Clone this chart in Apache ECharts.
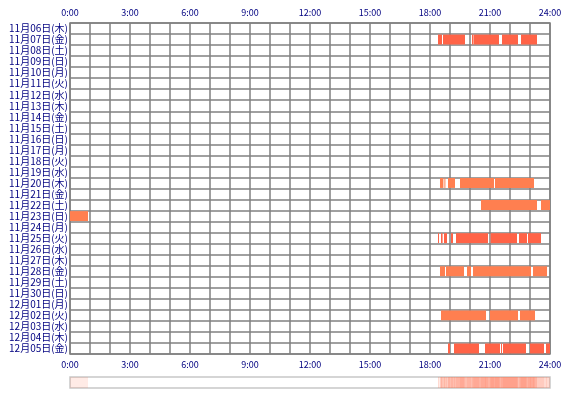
<!DOCTYPE html>
<html>
<head>
<meta charset="utf-8">
<script src="https://cdn.jsdelivr.net/npm/echarts@6/dist/echarts.min.js"></script>
<style>html,body{margin:0;padding:0;background:#fff}#chart{width:570px;height:400px}</style>
</head>
<body>
<div id="chart"></div>
<script>
// 日付ラベル
var days = ['11月06日(木)','11月07日(金)','11月08日(土)','11月09日(日)','11月10日(月)','11月11日(火)','11月12日(水)','11月13日(木)','11月14日(金)','11月15日(土)','11月16日(日)','11月17日(月)','11月18日(火)','11月19日(水)','11月20日(木)','11月21日(金)','11月22日(土)','11月23日(日)','11月24日(月)','11月25日(火)','11月26日(水)','11月27日(木)','11月28日(金)','11月29日(土)','11月30日(日)','12月01日(月)','12月02日(火)','12月03日(水)','12月04日(木)','12月05日(金)'];
var hourTicks = [0, 3, 6, 9, 12, 15, 18, 21, 24];
// 各日の区間 [日index, 開始時, 終了時]
var segments = [
  [1,18.4,18.6],[1,18.65,19.75],[1,20.1,20.15],[1,20.17,21.45],[1,21.6,22.4],[1,22.55,23.35],
  [14,18.5,18.67],[14,18.72,18.77],[14,18.9,19.25],[14,19.5,21.2],[14,21.25,23.2],
  [16,20.55,23.35],[16,23.55,24],
  [17,0,0.9],
  [19,18.4,18.45],[19,18.55,18.63],[19,18.7,18.85],[19,19.05,19.15],[19,19.3,20.9],[19,21.03,22.35],[19,22.45,22.85],[19,22.9,23.55],
  [22,18.5,18.75],[22,18.8,19.7],[22,19.85,20.05],[22,20.15,23.05],[22,23.15,23.85],
  [26,18.55,20.8],[26,21.0,22.4],[26,22.5,23.25],
  [29,18.9,19.0],[29,19.2,20.45],[29,20.75,21.5],[29,21.55,21.6],[29,21.65,22.8],[29,23.0,23.7],[29,23.8,24]
];
var darkDays = [1, 19, 29];

var myChart = echarts.init(document.getElementById('chart'));
var fontF = '"Noto Sans CJK JP", sans-serif';

function fmtHour(v) {
  return v + ':00';
}

//各区間の矩形
function renderSeg(params, api) {
  var d = api.value(0);
  var s = api.coord([api.value(1), d]);
  var e = api.coord([api.value(2), d]);
  var h = api.size([0, 1])[1];
  return {
    type: 'rect',
    shape: { x: s[0], y: s[1] - h * 0.45, width: Math.max(e[0] - s[0], 1), height: h * 0.9 },
    style: { fill: darkDays.indexOf(d) >= 0 ? '#ff6347' : '#ff7f50' }
  };
}

//下部の集計帯
function renderStrip(params, api) {
  var s = api.coord([api.value(1), 0]);
  var e = api.coord([api.value(2), 0]);
  var h = api.size([0, 1])[1];
  return {
    type: 'rect',
    shape: { x: s[0], y: s[1] - h / 2, width: Math.max(e[0] - s[0], 1), height: h },
    style: { fill: 'rgba(255,110,80,0.14)' }
  };
}

var xBase = {
  type: 'value', min: 0, max: 24, interval: 3,
  axisLine: { show: false }, axisTick: { show: false },
  splitLine: { show: true, lineStyle: { color: '#808080', width: 1.5 } },
  minorTick: { show: false, splitNumber: 3 },
  minorSplitLine: { show: true, lineStyle: { color: '#808080', width: 1.5 } }
};

var option = {
  animation: false,
  grid: [
    { left: 70, right: 20, top: 23, height: 331, show: true, borderColor: '#808080', borderWidth: 1.5 },
    { left: 70, right: 20, top: 377, height: 11, show: true, borderColor: '#c8c8c8', borderWidth: 1.5 }
  ],
  xAxis: [
    Object.assign({}, xBase, { gridIndex: 0, position: 'top',
      axisLabel: { formatter: fmtHour, color: '#000080', fontSize: 9, fontFamily: fontF, margin: 6 } }),
    Object.assign({}, xBase, { gridIndex: 0, position: 'bottom', splitLine: { show: false }, minorSplitLine: { show: false },
      axisLabel: { formatter: fmtHour, color: '#000080', fontSize: 9, fontFamily: fontF, margin: 6 } }),
    { type: 'value', gridIndex: 1, min: 0, max: 24, show: false }
  ],
  yAxis: [
    { type: 'category', gridIndex: 0, data: days, inverse: true,
      axisLine: { show: false }, axisTick: { show: false },
      splitLine: { show: true, lineStyle: { color: '#808080', width: 1.5 } },
      axisLabel: { color: '#000080', fontSize: 10, fontFamily: fontF, margin: 2, interval: 0 } },
    { type: 'category', gridIndex: 1, data: [''], show: false }
  ],
  series: [
    { type: 'custom', xAxisIndex: 0, yAxisIndex: 0, renderItem: renderSeg,
      encode: { x: [1, 2], y: 0 }, data: segments, z: 3 },
    { type: 'custom', xAxisIndex: 2, yAxisIndex: 1, renderItem: renderStrip,
      encode: { x: [1, 2] }, data: segments }
  ]
};
myChart.setOption(option);
</script>
</body>
</html>
